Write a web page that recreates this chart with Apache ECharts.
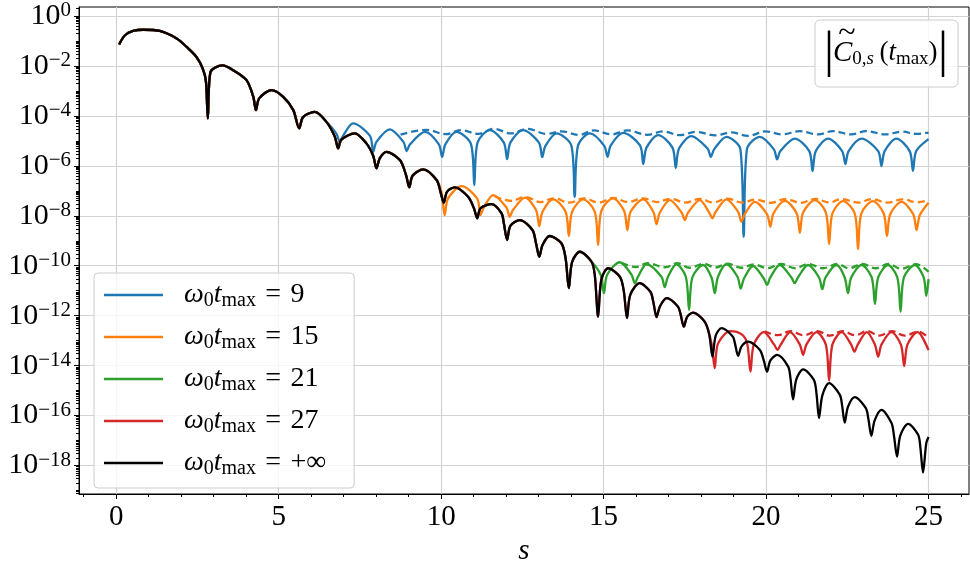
<!DOCTYPE html>
<html>
<head>
<meta charset="utf-8">
<script src="https://cdn.jsdelivr.net/npm/echarts@6/dist/echarts.min.js"></script>
<style>
  html, body { margin: 0; padding: 0; background: #fff; }
  #chart { width: 970px; height: 563px; }
</style>
</head>
<body>
<div id="chart"></div>
<script>
// points are [s, log10 |C|]

// w0 tmax = +inf (full curve, the others follow it until they split off)
const blackPts = [
  [0.09,-1.14],[0.27,-0.77],[0.52,-0.60],[0.83,-0.55],[1.34,-0.60],[1.86,-0.90],[2.17,-1.24],[2.47,-1.64],
  [2.66,-2.10],[2.76,-2.60],[2.82,-4.10],[2.90,-2.25],[3.27,-1.98],[3.60,-2.17],[4.01,-2.57],[4.22,-3.24],
  [4.30,-3.77],[4.40,-3.30],[4.78,-2.97],[5.14,-3.24],[5.45,-3.77],[5.63,-4.50],[5.75,-4.05],[6.11,-3.84],
  [6.47,-4.24],[6.73,-4.84],[6.83,-5.30],[6.93,-4.95],[7.34,-4.70],[7.70,-5.10],[7.91,-5.60],[8.01,-6.10],
  [8.11,-5.70],[8.32,-5.44],[8.73,-5.77],[8.92,-6.37],[9.02,-6.86],[9.12,-6.40],[9.45,-6.14],[9.86,-6.57],
  [9.98,-7.04],[10.08,-7.48],[10.18,-7.04],[10.42,-6.86],[10.83,-7.24],[11.01,-7.70],[11.11,-8.10],[11.21,-7.70],
  [11.55,-7.53],[11.86,-7.90],[11.93,-8.30],[12.03,-8.97],[12.13,-8.40],[12.42,-8.17],[12.81,-8.57],[12.92,-9.10],
  [13.02,-9.64],[13.12,-9.17],[13.34,-8.81],[13.70,-9.10],[13.83,-9.70],[13.93,-10.90],[14.03,-9.85],[14.27,-9.44],
  [14.63,-9.84],[14.73,-10.40],[14.83,-12.04],[14.93,-10.55],[15.14,-10.10],[15.50,-10.44],[15.62,-11.00],[15.72,-12.10],
  [15.82,-11.17],[16.11,-10.70],[16.44,-11.04],[16.53,-11.45],[16.63,-12.06],[16.73,-11.64],[16.94,-11.30],[17.29,-11.64],
  [17.37,-11.95],[17.47,-12.44],[17.57,-12.05],[17.75,-11.88],[18.11,-12.24],[18.25,-12.75],[18.35,-13.64],[18.45,-12.80],
  [18.63,-12.50],[18.98,-12.84],[19.04,-13.10],[19.14,-13.61],[19.24,-13.24],[19.45,-13.04],[19.81,-13.37],[19.93,-13.80],
  [20.03,-14.24],[20.13,-13.80],[20.34,-13.57],[20.68,-14.04],[20.75,-14.50],[20.83,-15.35],[20.93,-14.55],[21.14,-14.15],
  [21.47,-14.57],[21.55,-15.10],[21.63,-16.10],[21.73,-15.20],[21.94,-14.70],[22.27,-15.17],[22.34,-15.60],[22.42,-16.28],
  [22.52,-15.65],[22.73,-15.26],[23.07,-15.70],[23.15,-16.15],[23.24,-16.81],[23.34,-16.20],[23.55,-15.77],[23.86,-16.30],
  [23.94,-16.85],[24.03,-17.64],[24.13,-16.80],[24.37,-16.33],[24.68,-16.77],[24.75,-17.30],[24.83,-18.28],[24.93,-17.10],
  [25.00,-16.86]
];

// w0 tmax = 9, after it leaves the black curve
const blueTail = [
  [6.78,-4.72],[6.88,-5.04],[6.98,-4.80],[7.29,-4.30],[7.81,-4.80],[7.91,-5.44],[8.01,-5.04],[8.42,-4.54],
  [8.84,-5.04],[8.94,-5.41],[9.04,-5.14],[9.50,-4.64],[9.93,-5.14],[10.03,-5.64],[10.13,-5.14],[10.47,-4.64],
  [10.92,-5.14],[11.02,-6.77],[11.12,-5.07],[11.50,-4.57],[11.93,-5.07],[12.03,-5.73],[12.13,-5.07],[12.52,-4.57],
  [13.01,-5.07],[13.11,-5.65],[13.21,-5.20],[13.55,-4.70],[14.01,-5.20],[14.11,-7.24],[14.21,-5.20],[14.58,-4.70],
  [15.02,-5.20],[15.12,-5.64],[15.22,-5.18],[15.60,-4.68],[16.12,-5.18],[16.22,-5.93],[16.32,-5.27],[16.68,-4.77],
  [17.12,-5.27],[17.22,-6.08],[17.32,-5.31],[17.70,-4.81],[18.20,-5.31],[18.30,-5.64],[18.40,-5.34],[18.78,-4.84],
  [19.21,-5.34],[19.31,-8.84],[19.41,-5.34],[19.81,-4.84],[20.24,-5.34],[20.34,-5.74],[20.44,-5.41],[20.88,-4.91],
  [21.33,-5.41],[21.43,-6.21],[21.53,-5.41],[21.91,-4.91],[22.34,-5.41],[22.44,-5.93],[22.54,-5.41],[22.94,-4.91],
  [23.45,-5.41],[23.55,-6.00],[23.65,-5.41],[24.01,-4.91],[24.42,-5.41],[24.52,-6.20],[24.62,-5.41],[25.00,-4.93]
];
const blueDash = [
  [8.75,-4.75],[9.55,-4.56],[10.15,-4.73],[10.60,-4.57],[11.15,-4.72],[11.62,-4.52],[12.15,-4.70],[12.65,-4.52],
  [13.25,-4.72],[13.70,-4.62],[14.25,-4.76],[14.70,-4.58],[15.25,-4.74],[15.72,-4.58],[16.35,-4.76],[16.82,-4.62],
  [17.35,-4.77],[17.85,-4.64],[18.45,-4.78],[18.92,-4.66],[19.45,-4.80],[19.98,-4.62],[20.50,-4.74],[21.03,-4.61],
  [21.60,-4.74],[22.06,-4.61],[22.62,-4.74],[23.08,-4.61],[23.68,-4.74],[24.18,-4.63],[24.62,-4.72],[25.00,-4.67]
];

// w0 tmax = 15
const orangeTail = [
  [10.01,-7.05],[10.11,-7.97],[10.21,-7.31],[10.63,-6.81],[11.11,-7.31],[11.21,-7.97],[11.31,-7.67],[11.60,-7.17],
  [12.01,-7.67],[12.11,-8.04],[12.21,-7.77],[12.58,-7.27],[12.92,-7.77],[13.02,-8.41],[13.12,-7.84],[13.45,-7.34],
  [13.83,-7.84],[13.93,-8.81],[14.03,-7.84],[14.37,-7.34],[14.73,-7.84],[14.83,-9.17],[14.93,-7.80],[15.29,-7.30],
  [15.63,-7.80],[15.73,-8.57],[15.83,-7.84],[16.22,-7.34],[16.53,-7.84],[16.63,-8.33],[16.73,-7.87],[17.04,-7.37],
  [17.40,-7.87],[17.50,-8.17],[17.60,-7.87],[17.96,-7.37],[18.25,-7.87],[18.35,-8.10],[18.45,-7.84],[18.78,-7.34],
  [19.14,-7.84],[19.24,-8.24],[19.34,-7.94],[19.65,-7.44],[20.03,-7.94],[20.13,-8.44],[20.23,-7.90],[20.58,-7.40],
  [20.94,-7.90],[21.04,-8.68],[21.14,-7.87],[21.50,-7.37],[21.84,-7.87],[21.94,-9.13],[22.04,-7.91],[22.37,-7.41],
  [22.73,-7.91],[22.83,-9.34],[22.93,-7.91],[23.29,-7.41],[23.62,-7.91],[23.72,-8.81],[23.82,-7.94],[24.17,-7.44],
  [24.53,-7.94],[24.63,-8.57],[24.73,-7.98],[25.00,-7.48]
];
const orangeDash = [
  [11.65,-7.22],[12.15,-7.40],[12.60,-7.25],[13.05,-7.45],[13.47,-7.30],[13.95,-7.47],[14.40,-7.30],[14.85,-7.47],
  [15.30,-7.28],[15.75,-7.45],[16.22,-7.30],[16.65,-7.45],[17.05,-7.32],[17.52,-7.47],[17.97,-7.32],[18.37,-7.47],
  [18.80,-7.31],[19.26,-7.47],[19.66,-7.35],[20.15,-7.48],[20.60,-7.33],[21.06,-7.48],[21.52,-7.32],[21.96,-7.47],
  [22.30,-7.33],[22.85,-7.47],[23.25,-7.33],[23.74,-7.47],[24.20,-7.34],[24.65,-7.46],[25.00,-7.37]
];

// w0 tmax = 21
const greenTail = [
  [14.91,-10.36],[15.01,-11.10],[15.11,-10.36],[15.50,-9.86],[15.86,-10.36],[15.96,-10.70],[16.06,-10.44],[16.32,-9.94],
  [16.78,-10.44],[16.88,-10.86],[16.98,-10.44],[17.24,-9.94],[17.53,-10.44],[17.63,-11.77],[17.73,-10.47],[18.06,-9.97],
  [18.32,-10.47],[18.42,-11.10],[18.52,-10.44],[18.78,-9.94],[19.12,-10.44],[19.22,-10.92],[19.32,-10.51],[19.60,-10.01],
  [19.93,-10.51],[20.03,-10.77],[20.13,-10.47],[20.42,-9.97],[20.78,-10.47],[20.88,-10.70],[20.98,-10.47],[21.29,-9.97],
  [21.63,-10.47],[21.73,-10.94],[21.83,-10.47],[22.17,-9.97],[22.42,-10.47],[22.52,-11.10],[22.62,-10.47],[22.94,-9.97],
  [23.25,-10.47],[23.35,-11.53],[23.45,-10.47],[23.75,-9.97],[24.04,-10.47],[24.14,-11.84],[24.24,-10.47],[24.58,-9.97],
  [24.85,-10.47],[24.93,-11.21],[25.00,-10.54]
];
const greenDash = [
  [15.55,-9.88],[15.98,-10.05],[16.35,-9.90],[16.90,-10.06],[17.27,-9.90],[17.65,-10.08],[18.08,-9.92],[18.44,-10.07],
  [18.80,-9.92],[19.24,-10.08],[19.62,-9.95],[20.05,-10.10],[20.45,-9.93],[20.90,-10.10],[21.30,-9.93],[21.75,-10.10],
  [22.20,-9.93],[22.55,-10.10],[22.96,-9.93],[23.37,-10.10],[23.77,-9.93],[24.16,-10.12],[24.60,-9.94],[25.00,-10.24]
];

// w0 tmax = 27
const redTail = [
  [18.32,-13.10],[18.42,-14.10],[18.52,-13.12],[18.90,-12.62],[19.25,-12.75],[19.42,-13.12],[19.52,-14.24],[19.62,-13.16],
  [19.93,-12.66],[20.25,-13.16],[20.35,-13.37],[20.45,-13.16],[20.74,-12.66],[21.04,-13.16],[21.14,-13.57],[21.24,-13.16],
  [21.55,-12.66],[21.84,-13.16],[21.94,-14.60],[22.04,-13.16],[22.33,-12.66],[22.62,-13.16],[22.72,-13.44],[22.82,-13.16],
  [23.10,-12.66],[23.35,-13.16],[23.45,-13.64],[23.55,-13.16],[23.86,-12.66],[24.15,-13.16],[24.25,-14.02],[24.35,-13.16],
  [24.66,-12.66],[25.00,-13.38]
];
const redDash = [
  [19.95,-12.62],[20.37,-12.78],[20.75,-12.62],[21.16,-12.78],[21.57,-12.62],[21.96,-12.80],[22.35,-12.62],[22.74,-12.78],
  [23.12,-12.62],[23.47,-12.80],[23.88,-12.62],[24.27,-12.80],[24.68,-12.64],[25.00,-12.90]
];

const tmaxLabels = ['9', '15', '21', '27', '+\u221e'];
const xMajor = [0, 5, 10, 15, 20, 25];
const xMinorTicks = [-1, 1, 2, 3, 4, 6, 7, 8, 9, 11, 12, 13, 14, 16, 17, 18, 19, 21, 22, 23, 24, 26];
const yMajor = [-18, -16, -14, -12, -10, -8, -6, -4, -2, 0];

const X_MIN = -1.145, X_MAX = 26.245;
const Y_MIN = -19.14, Y_MAX = 0.36;
const FONT = '"Liberation Serif", "DejaVu Serif", serif';

// minor log ticks: 2..9 x 10^k and the unlabelled decades
const yMinorTicks = [];
for (let k = -20; k <= 0; k++) {
  for (let m = 1; m <= 9; m++) {
    const v = k + Math.log10(m);
    if (m === 1 && k % 2 === 0) continue;
    if (v > Y_MIN && v < Y_MAX) yMinorTicks.push(v);
  }
}

function withBlack(cut, tail) {
  return blackPts.filter(p => p[0] < cut).concat(tail);
}

const colors = ['#1f77b4', '#ff7f0e', '#2ca02c', '#d62728', '#000000'];
const names = tmaxLabels.map(t => 'w0tmax=' + t);
const solidData = [
  withBlack(6.7, blueTail),
  withBlack(9.9, orangeTail),
  withBlack(14.7, greenTail),
  withBlack(18.2, redTail),
  blackPts
];
const dashData = [blueDash, orangeDash, greenDash, redDash];

const series = [];
for (let i = 0; i < 5; i++) {
  series.push({
    name: names[i],
    type: 'line',
    data: solidData[i],
    smooth: 0.3,
    symbol: 'none',
    showSymbol: false,
    lineStyle: { color: colors[i], width: 2.3 },
    itemStyle: { color: colors[i] },
    z: 2 + i,
    animation: false
  });
  if (i < 4) {
    series.push({
      name: 'dash' + i,
      type: 'line',
      data: dashData[i],
      smooth: 0.4,
      symbol: 'none',
      showSymbol: false,
      lineStyle: { color: colors[i], width: 2.3, type: [7, 4] },
      itemStyle: { color: colors[i] },
      z: 2 + i,
      animation: false
    });
  }
}

const chart = echarts.init(document.getElementById('chart'), null, { renderer: 'canvas' });

chart.setOption({
  animation: false,
  backgroundColor: '#ffffff',
  grid: {
    left: 79, right: 1, top: 7, bottom: 69,
    show: true, borderColor: '#000', borderWidth: 1,
    containLabel: false, outerBoundsMode: 'none'
  },
  xAxis: [{
    type: 'value', min: X_MIN, max: X_MAX, splitNumber: 5,
    name: 's', nameLocation: 'middle', nameGap: 42,
    nameTextStyle: { fontFamily: FONT, fontStyle: 'italic', fontSize: 29, color: '#000' },
    axisLine: { onZero: false, lineStyle: { color: '#000', width: 1 } },
    axisTick: { customValues: xMajor, length: 5, lineStyle: { color: '#000', width: 1 } },
    axisLabel: { customValues: xMajor, fontFamily: FONT, fontSize: 29, color: '#000', margin: 9 },
    splitLine: { show: true, lineStyle: { color: '#d3d3d3', width: 1.2 } }
  }, {
    type: 'value', min: X_MIN, max: X_MAX, position: 'bottom',
    axisLine: { show: false, onZero: false },
    axisTick: { show: true, customValues: xMinorTicks, length: 3, lineStyle: { color: '#000', width: 1 } },
    axisLabel: { show: false },
    splitLine: { show: false }
  }],
  yAxis: [{
    type: 'value', min: Y_MIN, max: Y_MAX, splitNumber: 10,
    axisLine: { show: true, onZero: false, lineStyle: { color: '#000', width: 1 } },
    axisTick: { show: true, customValues: yMajor, length: 5, lineStyle: { color: '#000', width: 1 } },
    axisLabel: {
      customValues: yMajor, margin: 8, color: '#000',
      formatter: v => '{b|10}{e|' + (v === 0 ? '0' : '\u2212' + Math.abs(Math.round(v))) + '}',
      rich: {
        b: { fontFamily: FONT, fontSize: 30, color: '#000', lineHeight: 30 },
        e: { fontFamily: FONT, fontSize: 21, color: '#000', lineHeight: 30, padding: [0, 0, 11, 0] }
      }
    },
    splitLine: { show: true, lineStyle: { color: '#d3d3d3', width: 1.2 } }
  }, {
    type: 'value', min: Y_MIN, max: Y_MAX, position: 'left',
    axisLine: { show: false, onZero: false },
    axisTick: { show: true, customValues: yMinorTicks, length: 3, lineStyle: { color: '#000', width: 1 } },
    axisLabel: { show: false },
    splitLine: { show: false }
  }],
  legend: {
    data: names,
    orient: 'vertical',
    left: 94, top: 273,
    padding: [6, 28, 9, 10],
    itemGap: 10,
    icon: 'rect',
    itemWidth: 59, itemHeight: 2.5,
    backgroundColor: 'rgba(255,255,255,0.8)',
    borderColor: '#cccccc', borderWidth: 1, borderRadius: 4,
    selectedMode: false,
    formatter: name => {
      const t = tmaxLabels[names.indexOf(name)];
      return '{w|\u03c9}{s|0}{t|t}{m|max}{e|\u2004=\u2004' + t + '}';
    },
    textStyle: {
      rich: {
        w: { fontFamily: FONT, fontStyle: 'italic', fontSize: 28, color: '#000', lineHeight: 30, padding: [0, 0, 0, 16] },
        s: { fontFamily: FONT, fontSize: 20, color: '#000', lineHeight: 30, padding: [12, 0, 0, 0] },
        t: { fontFamily: FONT, fontStyle: 'italic', fontSize: 28, color: '#000', lineHeight: 30 },
        m: { fontFamily: FONT, fontSize: 20, color: '#000', lineHeight: 30, padding: [12, 0, 0, 0] },
        e: { fontFamily: FONT, fontSize: 28, color: '#000', lineHeight: 30 }
      }
    }
  },
  graphic: [
    {
      type: 'rect', z: 100,
      shape: { x: 815, y: 20, width: 143, height: 67, r: 5 },
      style: { fill: 'rgba(255,255,255,0.8)', stroke: '#cccccc', lineWidth: 1 }
    },
    {
      type: 'text', z: 101, x: 829, y: 53,
      style: { text: '|', fontFamily: FONT, fontSize: 50, fill: '#000', align: 'center', verticalAlign: 'middle', textAlign: 'center', textVerticalAlign: 'middle' }
    },
    {
      type: 'text', z: 101, x: 943, y: 53,
      style: { text: '|', fontFamily: FONT, fontSize: 50, fill: '#000', align: 'center', verticalAlign: 'middle', textAlign: 'center', textVerticalAlign: 'middle' }
    },
    {
      type: 'text', z: 101, x: 847, y: 34,
      style: { text: '~', fontFamily: FONT, fontSize: 32, fill: '#000', align: 'center', verticalAlign: 'middle', textAlign: 'center', textVerticalAlign: 'middle' }
    },
    {
      type: 'text', z: 101, x: 833, y: 53,
      style: {
        text: '{c|C}{s|0,}{si|s}{p|\u2009(}{t|t}{s|max}{p|)}',
        align: 'left', verticalAlign: 'middle', textAlign: 'left', textVerticalAlign: 'middle',
        rich: {
          c: { fontFamily: FONT, fontStyle: 'italic', fontSize: 29, fill: '#000', lineHeight: 34 },
          s: { fontFamily: FONT, fontSize: 19, fill: '#000', lineHeight: 34, padding: [12, 0, 0, 0] },
          si: { fontFamily: FONT, fontStyle: 'italic', fontSize: 19, fill: '#000', lineHeight: 34, padding: [12, 0, 0, 0] },
          t: { fontFamily: FONT, fontStyle: 'italic', fontSize: 27, fill: '#000', lineHeight: 34 },
          p: { fontFamily: FONT, fontSize: 27, fill: '#000', lineHeight: 34 }
        }
      }
    }
  ],
  series: series
});
</script>
</body>
</html>
